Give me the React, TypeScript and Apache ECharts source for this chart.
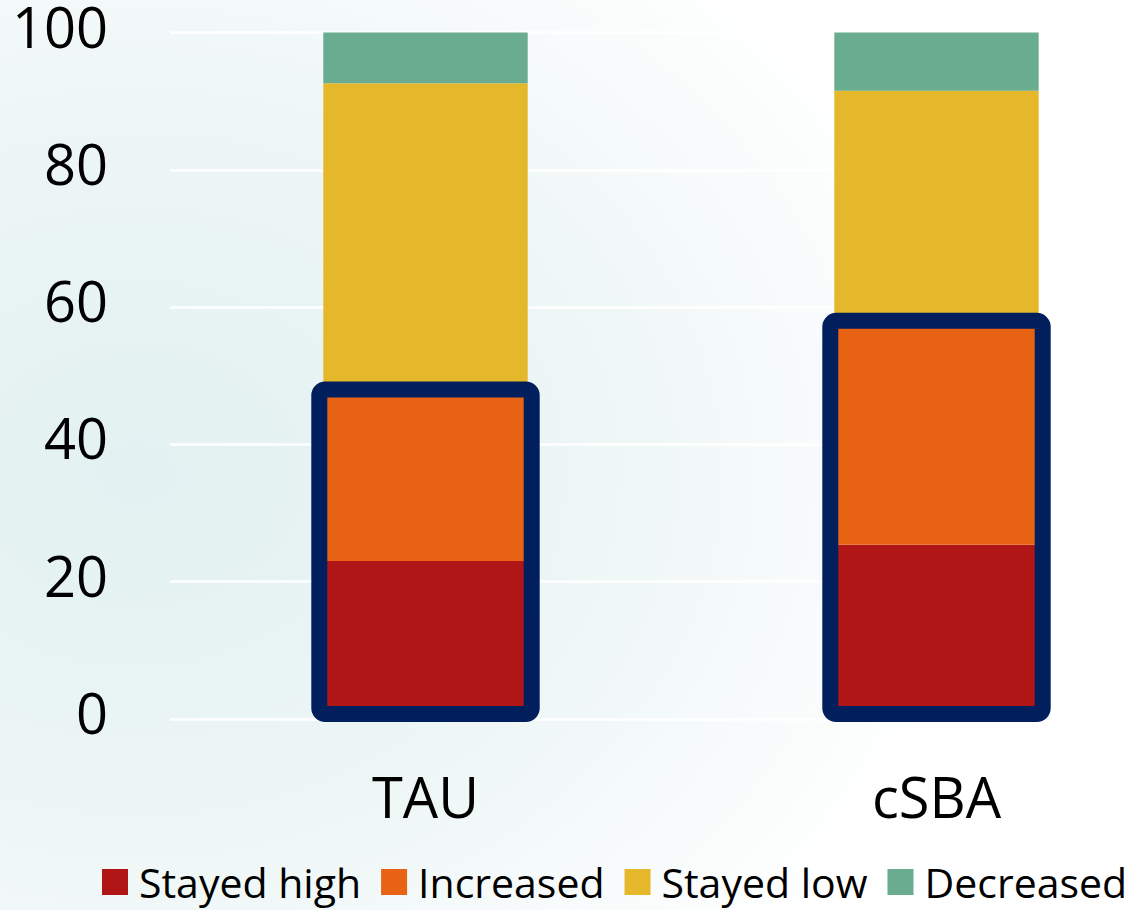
import React, { useEffect, useRef } from "react";
import * as echarts from "echarts";

const categories = ["TAU", "cSBA"];
const stayedHigh = [23, 25.4];
const increased = [25, 32.6];
const stayedLow = [44.6, 33.5];
const decreased = [7.4, 8.5];
const yTicks = [0, 20, 40, 60, 80, 100];

const seriesNames = ["Stayed high", "Increased", "Stayed low", "Decreased"];
const seriesColors = ["#B01616", "#E86314", "#E5B72A", "#6AAC8F"];
const outlineColor = "#001F5C";

export default function App() {
  const ref = useRef<HTMLDivElement>(null);

  useEffect(() => {
    document.body.style.margin = "0";
    const chart = echarts.init(ref.current!, null, { renderer: "svg" });
    const dataSets = [stayedHigh, increased, stayedLow, decreased];
    const outlineData = categories.map((_, i) => [i, stayedHigh[i] + increased[i]]);
    const font = "'Open Sans', 'Noto Sans', sans-serif";

    chart.setOption({
      animation: false,
      backgroundColor: {
        type: "radial",
        x: 0.12,
        y: 0.52,
        r: 0.75,
        colorStops: [
          { offset: 0, color: "#e2f1f1" },
          { offset: 0.55, color: "#eef6f6" },
          { offset: 1, color: "#ffffff" },
        ],
      },
      grid: {
        left: 170,
        width: 1022,
        top: 32.5,
        height: 686.5,
        outerBoundsMode: "none",
        containLabel: false,
      },
      legend: {
        left: 102,
        top: 861,
        width: 1100,
        padding: 0,
        itemWidth: 26,
        itemHeight: 26,
        itemGap: 20,
        icon: "rect",
        data: seriesNames,
        textStyle: {
          fontSize: 41,
          lineHeight: 42,
          color: "#000",
          fontFamily: font,
          padding: [0, 0, 0, 6],
        },
      },
      xAxis: {
        type: "category",
        data: categories,
        axisLine: { show: false },
        axisTick: { show: false },
        axisLabel: { fontSize: 56, color: "#000", margin: 49, fontFamily: font },
        splitLine: { show: false },
      },
      yAxis: {
        type: "value",
        min: yTicks[0],
        max: yTicks[yTicks.length - 1],
        interval: 20,
        axisLine: { show: false },
        axisTick: { show: false },
        axisLabel: {
          fontSize: 56,
          lineHeight: 14,
          verticalAlign: "bottom",
          color: "#000",
          margin: 62,
          fontFamily: font,
        },
        splitLine: { show: true, lineStyle: { color: "#ffffff", width: 2.5 } },
      },
      series: [
        ...seriesNames.map((name, k) => ({
          name,
          type: "bar",
          stack: "total",
          barWidth: "40%",
          data: dataSets[k],
          itemStyle: { color: seriesColors[k] },
        })),
        {
          type: "custom",
          name: "outline",
          z: 10,
          silent: true,
          data: outlineData,
          renderItem: (params: any, api: any) => {
            const idx = api.value(0);
            const base = api.coord([idx, 0]);
            const top = api.coord([idx, api.value(1)]);
            const bw = api.size([1, 0])[0] * 0.4;
            const lw = 16;
            return {
              type: "rect",
              shape: {
                x: base[0] - bw / 2 - 4,
                y: top[1],
                width: bw + 8,
                height: base[1] - 5 - top[1],
                r: 6,
              },
              style: { fill: "none", stroke: outlineColor, lineWidth: lw },
            };
          },
        },
      ],
    });
    return () => chart.dispose();
  }, []);

  return <div ref={ref} style={{ width: 1142, height: 910 }} />;
}
